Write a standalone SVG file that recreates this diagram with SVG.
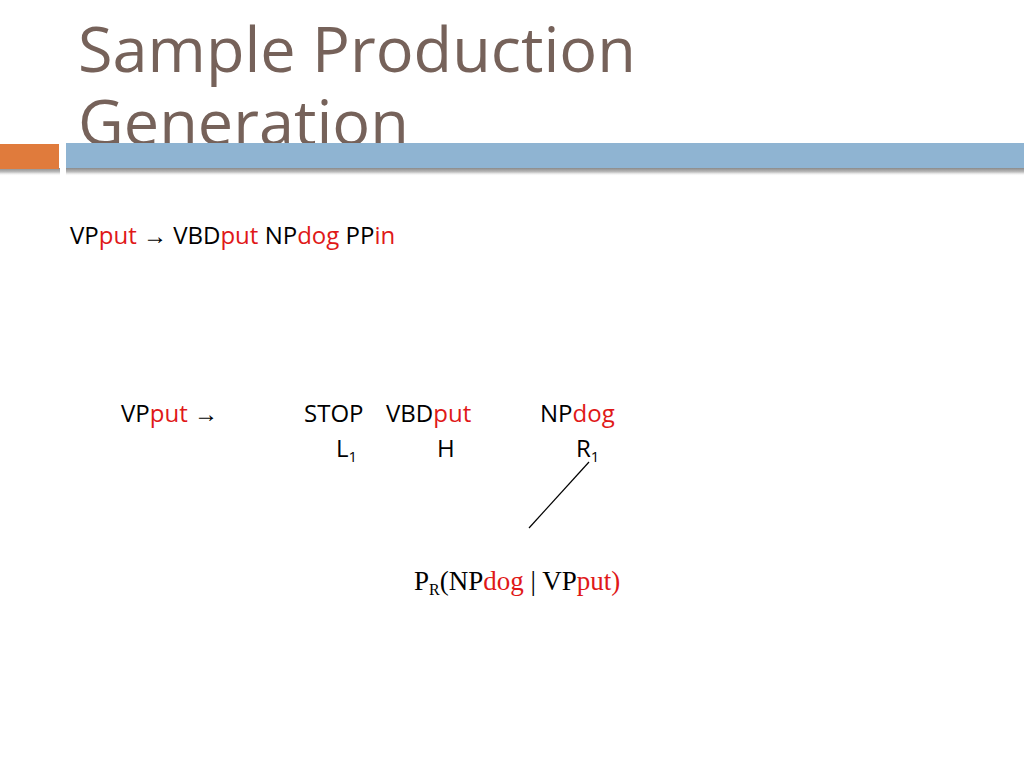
<svg xmlns="http://www.w3.org/2000/svg" width="1024" height="768" viewBox="0 0 1024 768">
<defs>
<linearGradient id="shadow" x1="0" y1="0" x2="0" y2="1">
<stop offset="0" stop-color="#8a8a8a"/>
<stop offset="0.5" stop-color="#bdbdbd"/>
<stop offset="1" stop-color="#ffffff" stop-opacity="0"/>
</linearGradient>
<style>
.title{font-family:"Open Sans","Noto Sans",sans-serif;font-size:63px;fill:#76625a}
.t{font-family:"Open Sans","Noto Sans",sans-serif;font-size:24px;fill:#000}
.r{fill:#e01818}
.s{font-family:"Liberation Serif","Times New Roman",serif;font-size:27px;fill:#000}
.sub{font-size:15px}
</style>
</defs>
<rect width="1024" height="768" fill="#fff"/>
<g id="title">
<text class="title"><tspan x="78" y="72">Sample Production</tspan><tspan x="78" y="145">Generation</tspan></text>
</g>
<g id="bars">
<rect x="0" y="168" width="60" height="8" fill="url(#shadow)"/>
<rect x="66" y="168" width="958" height="8" fill="url(#shadow)"/>
<rect x="0" y="144" width="59" height="25" fill="#e07b3c"/>
<rect x="66" y="143" width="958" height="25" fill="#8fb4d2"/>
</g>
<g id="rule">
<text class="t" x="70" y="244">VP<tspan class="r">put</tspan> → VBD<tspan class="r">put</tspan> NP<tspan class="r">dog</tspan> PP<tspan class="r">in</tspan></text>
</g>
<g id="lhs">
<text class="t" x="121" y="422">VP<tspan class="r">put</tspan> →</text>
</g>
<g id="stop">
<text class="t" x="304" y="422">STOP</text>
<text class="t" x="336" y="457">L<tspan class="sub" dy="5">1</tspan></text>
</g>
<g id="head">
<text class="t" x="386" y="422">VBD<tspan class="r">put</tspan></text>
<text class="t" x="437" y="457">H</text>
</g>
<g id="right">
<text class="t" x="540" y="422">NP<tspan class="r">dog</tspan></text>
<text class="t" x="576" y="457">R<tspan class="sub" dy="5">1</tspan></text>
</g>
<g id="connectors">
<line x1="589" y1="462" x2="529" y2="528" stroke="#000" stroke-width="1.2"/>
</g>
<g id="prob">
<text class="s" x="414" y="590">P<tspan font-size="16" dy="5">R</tspan><tspan dy="-5">(NP</tspan><tspan class="r">dog</tspan> | VP<tspan class="r">put)</tspan></text>
</g>
</svg>
